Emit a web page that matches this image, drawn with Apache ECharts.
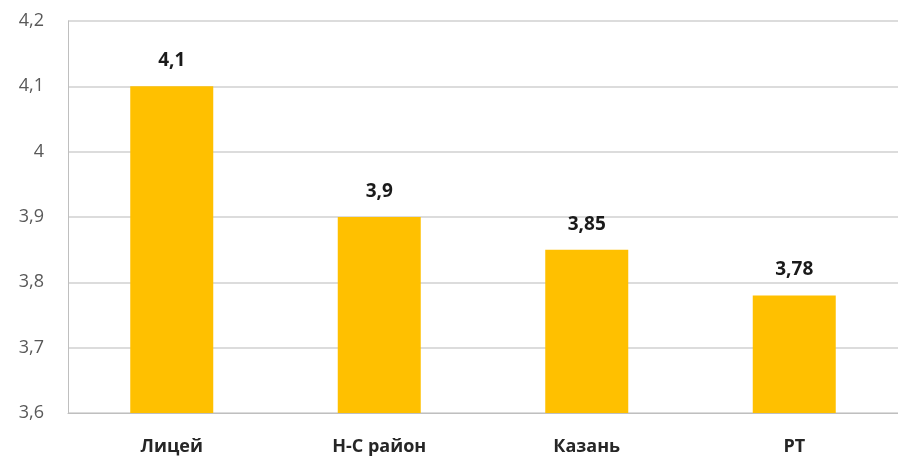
<!DOCTYPE html>
<html>
<head>
<meta charset="utf-8">
<script src="https://cdn.jsdelivr.net/npm/echarts@6/dist/echarts.min.js"></script>
<style>
  html, body { margin: 0; padding: 0; background: #fff; }
  #chart { width: 898px; height: 460px; }
</style>
</head>
<body>
<div id="chart"></div>
<script>
// категории и значения
var categories = ['Лицей', 'Н-С район', 'Казань', 'РТ'];
var values = [4.1, 3.9, 3.85, 3.78];
var yMin = 3.6, yMax = 4.2, yStep = 0.1;

function comma(v) {
    return String(+v.toFixed(2)).replace('.', ',');
}

var chart = echarts.init(document.getElementById('chart'));
var opt = {
    animation: false,
    grid: { left: 68, right: 0, top: 21, bottom: 47, containLabel: false },
    xAxis: {
        type: 'category',
        data: categories,
        axisLine: { lineStyle: { color: '#bfbfbf', width: 1 } },
        axisTick: { show: false },
        axisLabel: {
            margin: 25,
            color: '#262626',
            fontFamily: 'Open Sans',
            fontWeight: 'bold',
            fontSize: 18
        }
    },
    yAxis: {
        type: 'value',
        min: yMin,
        max: yMax,
        interval: yStep,
        axisLine: { show: true, lineStyle: { color: '#bfbfbf', width: 1 } },
        axisTick: { show: false },
        splitLine: { lineStyle: { color: '#d0d0d0', width: 1.5 } },
        axisLabel: {
            margin: 24,
            color: '#595959',
            fontFamily: 'Open Sans',
            fontSize: 18,
            formatter: function (v) { return comma(v); }
        }
    },
    series: [
        {
            type: 'bar',
            data: values,
            barWidth: '40%',
            itemStyle: { color: '#FFC000' },
            label: {
                show: true,
                position: 'top',
                distance: 16,
                color: '#1a1a1a',
                fontFamily: 'Open Sans',
                fontWeight: 'bold',
                fontSize: 19,
                formatter: function (p) { return comma(p.value); }
            }
        }
    ]
};
chart.setOption(opt);
</script>
</body>
</html>
